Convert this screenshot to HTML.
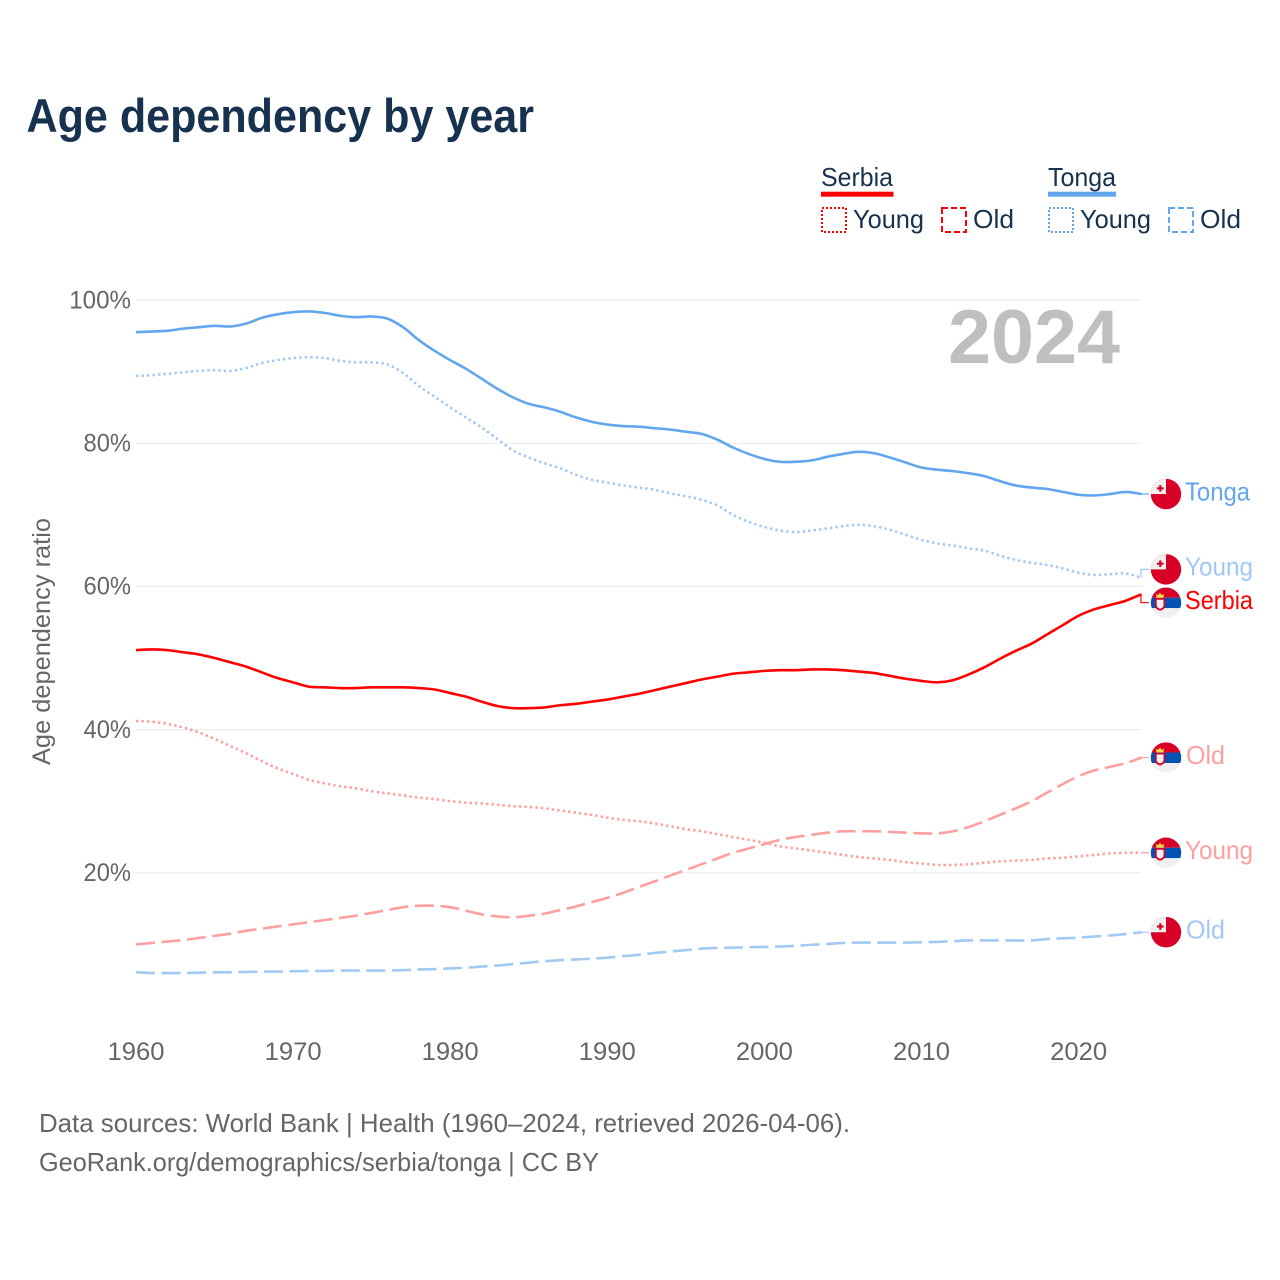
<!DOCTYPE html>
<html lang="en">
<head>
<meta charset="utf-8">
<title>Age dependency by year</title>
<style>
html,body{margin:0;padding:0;background:#fff;width:1280px;height:1280px;overflow:hidden}
svg{display:block}
text{font-family:"Liberation Sans",sans-serif}
</style>
</head>
<body>
<svg id="chart" xmlns="http://www.w3.org/2000/svg" width="1280" height="1280" viewBox="0 0 1280 1280">
  <defs>
    <clipPath id="flag-clip"><circle cx="0" cy="0" r="15.2"/></clipPath>
  </defs>
  <rect x="0" y="0" width="1280" height="1280" fill="#fff"/>
  <text x="26.5" y="132" font-size="47" font-weight="700" fill="#17324f" textLength="507.5" lengthAdjust="spacingAndGlyphs">Age dependency by year</text>

  <g font-size="26" fill="#17324f">
    <text x="821" y="186" textLength="72" lengthAdjust="spacingAndGlyphs">Serbia</text>
    <rect x="821" y="191.7" width="72.5" height="5" fill="#ff0000"/>
    <rect x="822" y="208" width="24" height="24" fill="none" stroke="#ff0000" stroke-width="2" stroke-dasharray="2 2"/>
    <text x="853" y="228" textLength="71" lengthAdjust="spacingAndGlyphs">Young</text>
    <rect x="942" y="208" width="24" height="24" fill="none" stroke="#ff0000" stroke-width="2" stroke-dasharray="6 3"/>
    <text x="973" y="228" textLength="41" lengthAdjust="spacingAndGlyphs">Old</text>
    <text x="1048" y="186" textLength="68" lengthAdjust="spacingAndGlyphs">Tonga</text>
    <rect x="1048" y="191.7" width="68" height="5" fill="#62a7ed"/>
    <rect x="1049" y="208" width="24" height="24" fill="none" stroke="#62a7ed" stroke-width="2" stroke-dasharray="2 2"/>
    <text x="1080" y="228" textLength="71" lengthAdjust="spacingAndGlyphs">Young</text>
    <rect x="1169" y="208" width="24" height="24" fill="none" stroke="#62a7ed" stroke-width="2" stroke-dasharray="6 3"/>
    <text x="1200" y="228" textLength="41" lengthAdjust="spacingAndGlyphs">Old</text>
  </g>

  <g id="grid"></g>
  <text x="948" y="363" font-size="76" font-weight="700" fill="#bfbfbf" textLength="172" lengthAdjust="spacingAndGlyphs">2024</text>
  <g id="y-ticks" font-size="25" fill="#666" text-anchor="start"></g>
  <g id="x-ticks" font-size="25" fill="#666" text-anchor="start"></g>
  <text transform="translate(50 765) rotate(-90)" x="0" y="0" font-size="25" fill="#666" textLength="247" lengthAdjust="spacingAndGlyphs">Age dependency ratio</text>
  <g id="series" fill="none"></g>
  <g id="end-labels"></g>

  <g font-size="26" fill="#666">
    <text x="39" y="1132" textLength="811" lengthAdjust="spacingAndGlyphs">Data sources: World Bank | Health (1960–2024, retrieved 2026-04-06).</text>
    <text x="39" y="1171" textLength="560" lengthAdjust="spacingAndGlyphs">GeoRank.org/demographics/serbia/tonga | CC BY</text>
  </g>
</svg>
<script>
const firstYear = 1960;
const xTickYears = [1960, 1970, 1980, 1990, 2000, 2010, 2020];
const yTickValues = [20, 40, 60, 80, 100];

const tongaTotal = [95.5,95.6,95.7,96.0,96.2,96.4,96.3,96.7,97.5,98.0,98.3,98.4,98.2,97.8,97.6,97.7,97.4,96.2,94.4,92.9,91.6,90.4,89.0,87.6,86.4,85.5,85.0,84.4,83.6,83.0,82.6,82.4,82.3,82.1,81.9,81.6,81.3,80.5,79.4,78.5,77.8,77.4,77.4,77.6,78.1,78.5,78.8,78.6,78.0,77.3,76.6,76.3,76.1,75.8,75.4,74.7,74.1,73.8,73.6,73.2,72.8,72.7,72.9,73.2,72.9];
const tongaYoung = [89.4,89.5,89.7,89.9,90.1,90.2,90.1,90.5,91.2,91.6,91.9,92.0,91.9,91.5,91.3,91.3,91.0,89.8,88.0,86.5,85.0,83.6,82.2,80.6,79.0,78.0,77.2,76.5,75.6,74.9,74.5,74.1,73.8,73.5,73.0,72.6,72.1,71.3,70.0,69.0,68.3,67.8,67.6,67.8,68.1,68.4,68.6,68.4,67.9,67.2,66.5,66.0,65.7,65.3,65.0,64.3,63.7,63.3,63.0,62.5,61.9,61.6,61.7,61.8,61.2];
const tongaOld = [6.1,6.0,6.0,6.0,6.05,6.1,6.1,6.15,6.2,6.2,6.25,6.3,6.3,6.35,6.35,6.35,6.35,6.4,6.5,6.55,6.65,6.75,6.9,7.05,7.25,7.45,7.65,7.8,7.9,8.0,8.15,8.35,8.55,8.8,9.0,9.2,9.4,9.5,9.55,9.6,9.65,9.7,9.8,9.95,10.05,10.2,10.25,10.25,10.25,10.25,10.3,10.35,10.45,10.55,10.55,10.55,10.55,10.55,10.75,10.85,10.95,11.1,11.25,11.45,11.7];

const serbiaTotal = [51.1,51.2,51.1,50.8,50.5,50.0,49.4,48.8,48.0,47.2,46.6,46.0,45.9,45.8,45.8,45.9,45.9,45.9,45.8,45.6,45.1,44.6,43.9,43.3,43.0,43.0,43.1,43.4,43.6,43.9,44.2,44.6,45.0,45.5,46.0,46.5,47.0,47.4,47.8,48.0,48.2,48.3,48.3,48.4,48.4,48.3,48.1,47.9,47.5,47.1,46.8,46.6,46.9,47.7,48.7,49.9,51.0,52.0,53.3,54.6,55.9,56.8,57.4,58.0,58.9];
const serbiaYoung = [41.2,41.1,40.8,40.3,39.6,38.7,37.7,36.7,35.6,34.6,33.8,33.0,32.5,32.1,31.8,31.4,31.1,30.8,30.5,30.3,30.0,29.8,29.7,29.5,29.3,29.2,29.0,28.7,28.4,28.1,27.7,27.4,27.2,26.9,26.5,26.1,25.8,25.4,25.0,24.6,24.2,23.7,23.4,23.1,22.8,22.5,22.2,22.0,21.8,21.5,21.3,21.1,21.1,21.2,21.4,21.6,21.7,21.8,22.0,22.1,22.3,22.5,22.7,22.8,22.8];
const serbiaOld = [10.0,10.2,10.4,10.6,10.9,11.2,11.5,11.9,12.2,12.5,12.8,13.1,13.4,13.7,14.0,14.4,14.8,15.2,15.4,15.4,15.2,14.7,14.2,13.9,13.8,14.0,14.3,14.8,15.3,15.9,16.5,17.2,18.0,18.8,19.6,20.4,21.2,22.0,22.8,23.4,24.0,24.6,25.0,25.3,25.6,25.8,25.8,25.8,25.7,25.6,25.5,25.5,25.8,26.4,27.2,28.1,29.0,30.0,31.2,32.4,33.5,34.3,34.8,35.3,36.1];

const SVGNS = 'http://www.w3.org/2000/svg';
const xScale = function (year) { return 136 + (year - 1960) * 15.71; };
const yScale = function (value) { return 1016 - value * 7.16; };
const endX = xScale(firstYear + serbiaTotal.length - 1);

function make(tag, attrs, parent) {
  const el = document.createElementNS(SVGNS, tag);
  for (const k in attrs) el.setAttribute(k, attrs[k]);
  parent.appendChild(el);
  return el;
}

const gridGroup = document.getElementById('grid');
const yTickGroup = document.getElementById('y-ticks');
yTickValues.forEach(function (v) {
  const y = yScale(v);
  const line = make('line', {x1: 136, x2: endX, y1: y, y2: y, stroke: '#ececec', 'stroke-width': 1.2}, gridGroup);
  
  
  const label = String(v) + '%';
  const w = (label.length - 1) * 14.25 + 19;
  const t = make('text', {x: 131 - w, y: y + 8.3, textLength: w, lengthAdjust: 'spacingAndGlyphs'}, yTickGroup);
  
  
  t.textContent = label;
});

const xTickGroup = document.getElementById('x-ticks');
xTickYears.forEach(function (year) {
  const t = make('text', {x: xScale(year) - 28.5, y: 1060, textLength: 57, lengthAdjust: 'spacingAndGlyphs'}, xTickGroup);
  
  
  t.textContent = String(year);
});

function smoothPath(values) {
  const p = values.map(function (v, i) { return [xScale(firstYear + i), yScale(v)]; });
  let d = 'M' + p[0][0].toFixed(2) + ' ' + p[0][1].toFixed(2);
  for (let i = 0; i < p.length - 1; i++) {
    const p0 = p[Math.max(i - 1, 0)], p1 = p[i], p2 = p[i + 1], p3 = p[Math.min(i + 2, p.length - 1)];
    const c1x = p1[0] + (p2[0] - p0[0]) / 6, c1y = p1[1] + (p2[1] - p0[1]) / 6;
    const c2x = p2[0] - (p3[0] - p1[0]) / 6, c2y = p2[1] - (p3[1] - p1[1]) / 6;
    d += 'C' + c1x.toFixed(2) + ' ' + c1y.toFixed(2) + ' ' + c2x.toFixed(2) + ' ' + c2y.toFixed(2) + ' ' + p2[0].toFixed(2) + ' ' + p2[1].toFixed(2);
  }
  return d;
}

const TONGA = '#62a7ed', TONGA_LIGHT = '#a1c9f4', SERBIA = '#ff0000', SERBIA_LIGHT = '#ff9f9f';
const seriesDefs = [
  {key: 'tonga-total', values: tongaTotal, color: TONGA, dash: '', label: 'Tonga', width: 65, flag: 'tonga'},
  {key: 'tonga-young', values: tongaYoung, color: TONGA_LIGHT, dash: '2.4 3.1', label: 'Young', width: 68, flag: 'tonga'},
  {key: 'serbia-total', values: serbiaTotal, color: SERBIA, dash: '', label: 'Serbia', width: 68, flag: 'serbia'},
  {key: 'serbia-old', values: serbiaOld, color: SERBIA_LIGHT, dash: '19 6.6', label: 'Old', width: 39, flag: 'serbia'},
  {key: 'serbia-young', values: serbiaYoung, color: SERBIA_LIGHT, dash: '2.4 3.1', label: 'Young', width: 68, flag: 'serbia'},
  {key: 'tonga-old', values: tongaOld, color: TONGA_LIGHT, dash: '19 6.6', label: 'Old', width: 39, flag: 'tonga'}
];

const seriesGroup = document.getElementById('series');
seriesDefs.forEach(function (s) {
  const attrs = {d: smoothPath(s.values), stroke: s.color, 'stroke-width': 2.6, 'stroke-linejoin': 'round'};
  if (s.dash) attrs['stroke-dasharray'] = s.dash;
  const path = make('path', attrs, seriesGroup);
  
  
  s.endY = yScale(s.values[s.values.length - 1]);
  s.labelY = s.endY;
});

/* spread end labels so flags do not overlap */
const minGap = 33.3;
const sorted = seriesDefs.slice().sort(function (a, b) { return a.endY - b.endY; });
for (let pass = 0; pass < 20; pass++) {
  for (let i = 0; i < sorted.length - 1; i++) {
    const gap = sorted[i + 1].labelY - sorted[i].labelY;
    if (gap < minGap) {
      const shift = (minGap - gap) / 2;
      sorted[i].labelY -= shift;
      sorted[i + 1].labelY += shift;
    }
  }
}

function drawFlag(group, kind, cy) {
  const g = make('g', {transform: 'translate(1166 ' + cy.toFixed(2) + ')', 'clip-path': 'url(#flag-clip)'}, group);
  
  
  if (kind === 'tonga') {
    make('rect', {x: -16, y: -16, width: 32, height: 32, fill: '#d80027'}, g);
    make('rect', {x: -16, y: -16, width: 16, height: 16, fill: '#f0f0f0'}, g);
    make('rect', {x: -9, y: -6.8, width: 6.6, height: 2.2, fill: '#d80027'}, g);
    make('rect', {x: -6.8, y: -9, width: 2.2, height: 6.6, fill: '#d80027'}, g);
  } else {
    make('rect', {x: -16, y: -16, width: 32, height: 11, fill: '#d80027'}, g);
    make('rect', {x: -16, y: -5, width: 32, height: 10.5, fill: '#0052b4'}, g);
    make('rect', {x: -16, y: 5.5, width: 32, height: 11, fill: '#f0f0f0'}, g);
    make('path', {d: 'M-11 -4.7H-0.8V3C-0.8 6 -4 7.5 -5.9 8C-7.8 7.5 -11 6 -11 3Z', fill: '#d80027'}, g);
    make('path', {d: 'M-9.3 -3H-2.5V2.5C-2.5 4.5 -4.5 5.6 -5.9 6C-7.3 5.6 -9.3 4.5 -9.3 2.5Z', fill: '#f0f0f0'}, g);
    make('path', {d: 'M-9.5 -5L-10 -9L-8 -7.5L-6 -10L-4 -7.5L-2 -9L-2.5 -5Z', fill: '#ffda44'}, g);
  }
}

const labelGroup = document.getElementById('end-labels');
seriesDefs.forEach(function (s) {
  const g = make('g', {}, labelGroup);
  
  
  const elbowX = endX - 0.5;
  const c = make('path', {
    d: 'M' + elbowX + ' ' + s.endY.toFixed(2) + 'V' + s.labelY.toFixed(2) + 'H1149',
    fill: 'none', stroke: s.color, 'stroke-width': 1.2
  }, g);
  
  
  drawFlag(g, s.flag, s.labelY);
  const t = make('text', {
    x: s.label === 'Old' ? 1186 : 1185, y: s.labelY + 6.3, 'font-size': 26, fill: s.color,
    textLength: s.width, lengthAdjust: 'spacingAndGlyphs'
  }, g);
  
  
  t.textContent = s.label;
});
</script>
</body>
</html>
